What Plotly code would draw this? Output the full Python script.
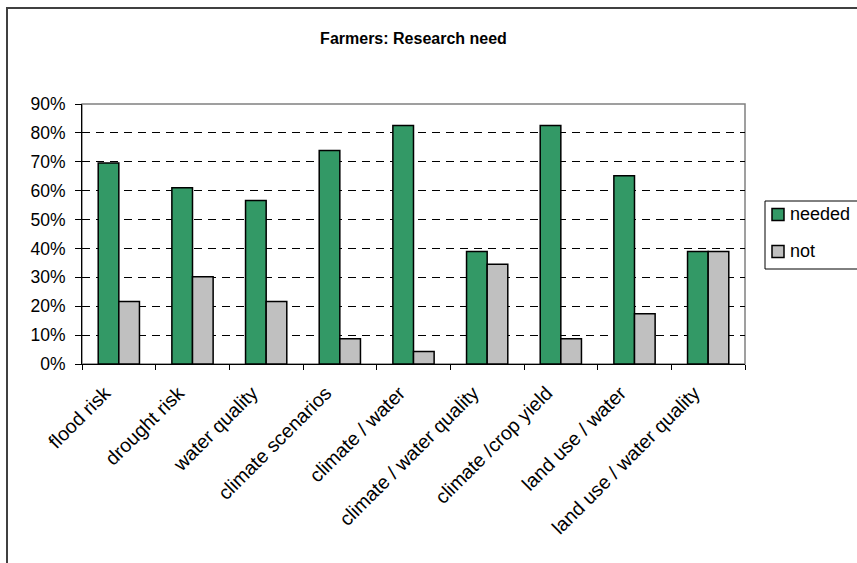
import plotly.graph_objects as go

categories = ["flood risk", "drought risk", "water quality", "climate scenarios",
              "climate / water", "climate / water quality", "climate /crop yield",
              "land use / water", "land use / water quality"]
needed = [0.696, 0.610, 0.566, 0.739, 0.826, 0.389, 0.826, 0.652, 0.389]
not_needed = [0.216, 0.302, 0.216, 0.087, 0.043, 0.345, 0.087, 0.174, 0.389]
series_names = ["needed", "not"]
series_colors = ["#339966", "#C0C0C0"]
y_ticks = [0, 0.1, 0.2, 0.3, 0.4, 0.5, 0.6, 0.7, 0.8, 0.9]
y_tick_labels = ["0%", "10%", "20%", "30%", "40%", "50%", "60%", "70%", "80%", "90%"]

W, H = 857, 563
L, R, T, B = 82, 745, 104, 364
pw, ph = R - L, B - T


def px(x):
    return (x - L) / pw


def py(y):
    return (B - y) / ph


fig = go.Figure()
for name, vals, col in zip(series_names, [needed, not_needed], series_colors):
    fig.add_trace(go.Bar(x=categories, y=vals, name=name, showlegend=False,
                         marker=dict(color=col, line=dict(color="#000000", width=1.5))))

font = "Liberation Sans, Arial, sans-serif"
fig.update_layout(
    width=W, height=H,
    margin=dict(l=L, r=W - R, t=T, b=H - B, autoexpand=False),
    paper_bgcolor="white", plot_bgcolor="white",
    barmode="group", bargap=0.44, bargroupgap=0,
    font=dict(family=font, size=17, color="#000000"),
    title=dict(text="<b>Farmers: Research need</b>", x=(L + R) / 2 / W, xanchor="center",
               y=1 - 38 / H, yanchor="middle", font=dict(size=16, family=font)),
    showlegend=False,
)
fig.update_xaxes(
    showline=True, linecolor="#000000", linewidth=1,
    ticks="outside", tickson="boundaries", ticklen=5, tickcolor="#000000",
    tickangle=-45, tickfont=dict(size=19.5, family=font),
    ticklabelshift=-14, ticklabelstandoff=9,
    showgrid=False,
)
fig.update_yaxes(
    range=[0, 0.9], tickvals=y_ticks, ticktext=y_tick_labels,
    showline=True, linecolor="#000000", linewidth=1,
    ticks="outside", ticklen=6, tickcolor="#000000",
    tickfont=dict(size=17.5, family=font), ticklabelstandoff=6,
    showgrid=True, gridcolor="#000000", gridwidth=1, griddash="8px,6px",
    zeroline=False,
)
# plot area border (gray)
fig.add_shape(type="rect", xref="paper", yref="paper", x0=0, x1=1, y0=0, y1=1,
              line=dict(color="#808080", width=1.5), layer="below")
# chart outer border
fig.add_shape(type="rect", xref="paper", yref="paper",
              x0=px(7), x1=px(880), y0=py(590), y1=py(8),
              line=dict(color="#404040", width=2), layer="below")

# legend box
fig.add_shape(type="rect", xref="paper", yref="paper",
              x0=px(765), x1=px(900), y0=py(269), y1=py(201),
              line=dict(color="#000000", width=1), fillcolor="white")
for i, (name, col) in enumerate(zip(series_names, series_colors)):
    cy = 214.5 + i * 37
    fig.add_shape(type="rect", xref="paper", yref="paper",
                  x0=px(772), x1=px(784), y0=py(cy + 6), y1=py(cy - 6),
                  line=dict(color="#000000", width=1.5), fillcolor=col)
    fig.add_annotation(text=name, xref="paper", yref="paper", x=px(788), y=py(cy - 1),
                       xanchor="left", yanchor="middle", showarrow=False,
                       font=dict(size=18, family=font, color="#000000"))

fig.write_html("out.html")
